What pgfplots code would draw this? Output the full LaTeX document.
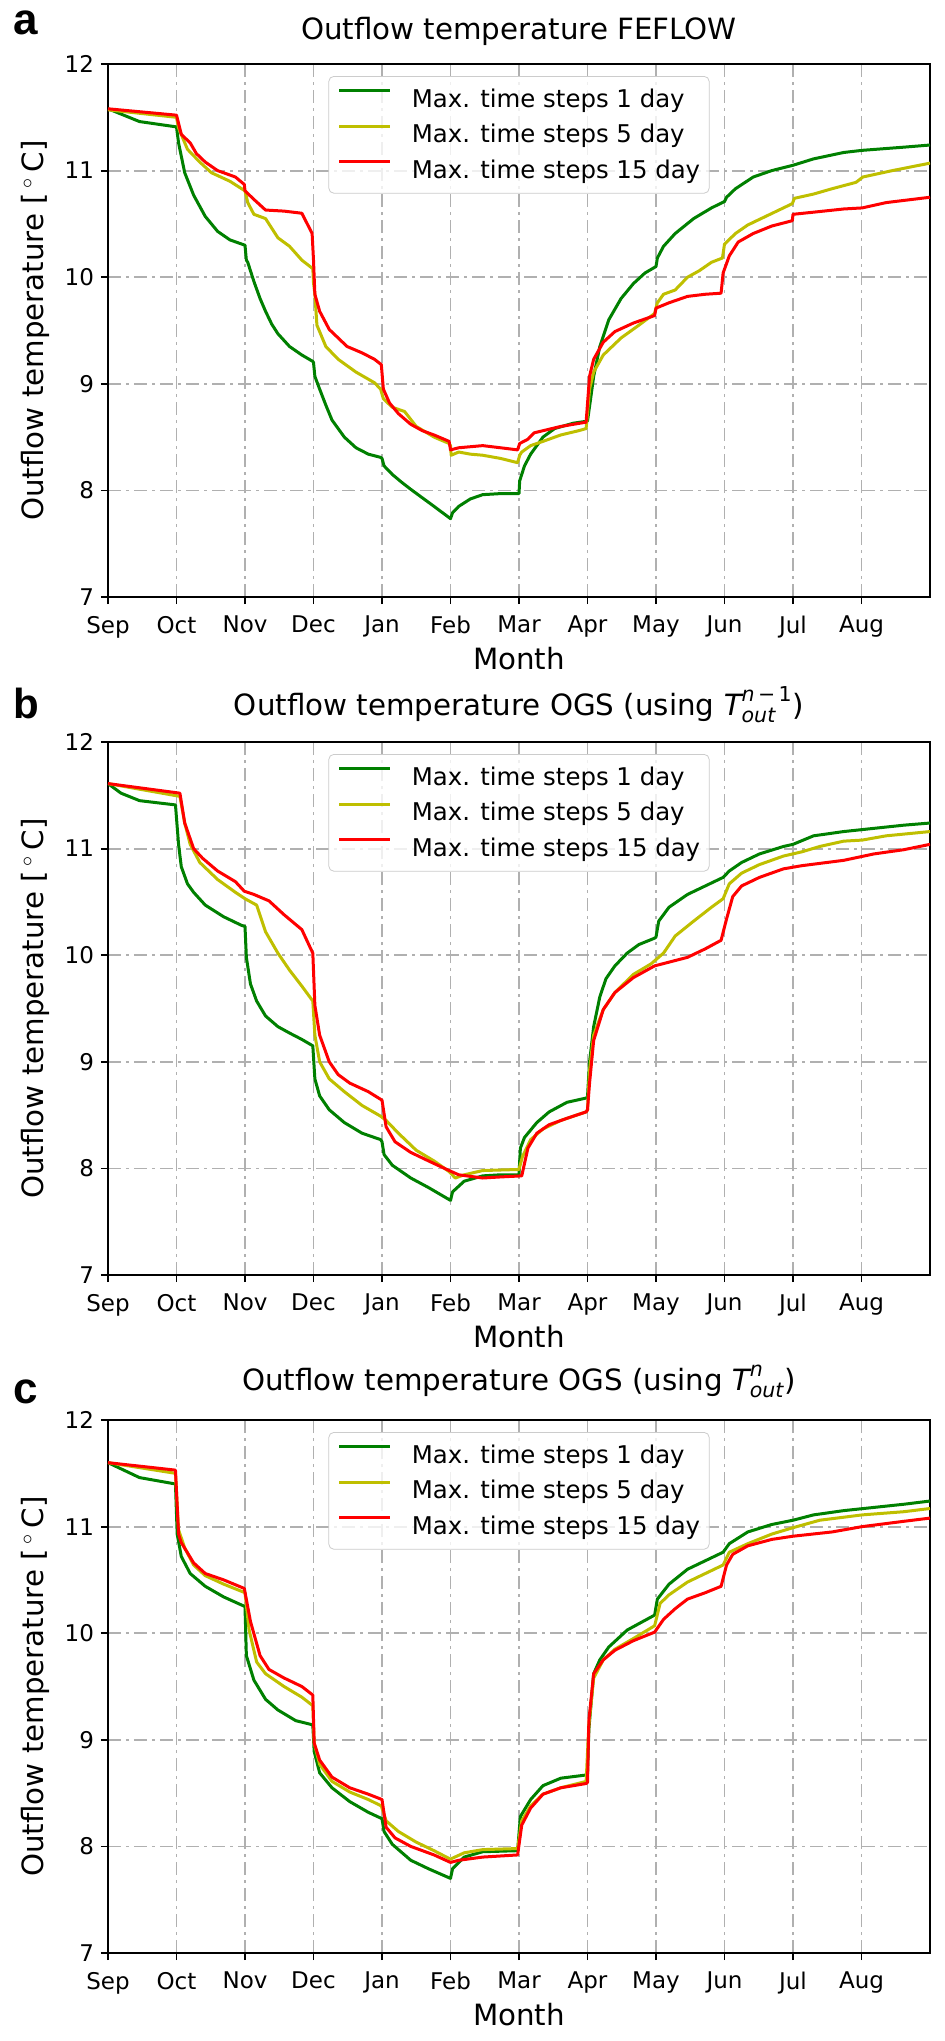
\documentclass[border=0pt]{standalone}
\usepackage{amsmath}
\usepackage{fontspec}
\setmainfont{DejaVu Sans}
\newfontfamily\letterfont{Liberation Sans}
\usepackage{pgfplots}
\pgfplotsset{compat=1.18}
\definecolor{mplgreen}{rgb}{0,0.5,0}
\definecolor{mplyellow}{rgb}{0.75,0.75,0}
\definecolor{mplred}{rgb}{1,0,0}
\pgfplotsset{
  myaxis/.style={
    scale only axis, width=411pt, height=266.5pt,
    anchor=north west,
    xmin=0, xmax=12, ymin=7, ymax=12,
    xtick={0,1,2,3,4,5,6,7,8,9,10,11},
    xticklabels={Sep,Oct,Nov,Dec,Jan,Feb,Mar,Apr,May,Jun,Jul,Aug},
    ytick={7,8,9,10,11,12},
    /pgf/number format/assume math mode=true,
    tick align=outside, tick pos=left,
    major tick length=3.5pt,
    every tick/.style={black, line width=0.9pt},
    axis line style={line width=0.9pt},
    grid=major,
    major grid style={color=black!31, line width=0.9pt, dash pattern=on 6.5pt off 2.5pt on 1.5pt off 2.5pt},
    tick label style={font=\fontsize{11.5}{13.8}\selectfont},
    xticklabel style={yshift=-2.5pt},
    label style={font=\fontsize{14.65}{17.6}\selectfont},
    xlabel={Month},
    ylabel={Outflow temperature [\,$^\circ$\,C]},
    xlabel style={at={(axis description cs:0.5,-0.136)}, anchor=base},
    ylabel style={at={(axis description cs:-0.079,0.5)}, anchor=base},
    title style={font=\fontsize{14.65}{17.6}\selectfont, at={(axis description cs:0.5,1)}, anchor=base},
    every axis plot/.append style={line width=1.5pt, line join=round},
    legend style={at={(axis description cs:0.5,0.9775)}, anchor=north,
      draw=black!20, rounded corners=2.5pt, fill=white, fill opacity=0.8, text opacity=1,
      font=\fontsize{12.2}{14.6}\selectfont,
      inner xsep=4.5pt, inner ysep=2.5pt, row sep=0pt,
      nodes={inner sep=0pt, text height=12.8pt, text depth=5pt}},
    legend cell align=left,
    legend image code/.code={\draw[#1] (0pt,4.4pt) -- (25.5pt,4.4pt); \path (35.5pt,4.4pt);},
  }
}
\begin{document}
\begin{tikzpicture}
\useasboundingbox (0,0) rectangle (472pt,-1020.5pt);
% ---------------- panel a ----------------
\begin{axis}[myaxis, at={(54pt,-32pt)},
  title={Outflow temperature FEFLOW}, title style={yshift=6.5pt}]
\addplot[mplgreen] coordinates {(0,11.58) (0.46,11.46) (1.00,11.41) (1.03,11.26) (1.12,10.98) (1.25,10.77) (1.42,10.57) (1.60,10.43) (1.78,10.35) (2.00,10.30) (2.02,10.16) (2.04,10.14) (2.13,9.96) (2.22,9.80) (2.30,9.68) (2.39,9.56) (2.48,9.47) (2.65,9.35) (2.83,9.27) (2.99,9.21) (3.00,9.20) (3.02,9.07) (3.09,8.95) (3.18,8.80) (3.27,8.66) (3.45,8.50) (3.62,8.40) (3.80,8.34) (3.98,8.31) (4.00,8.30) (4.03,8.23) (4.15,8.15) (4.28,8.08) (4.42,8.01) (4.59,7.93) (4.76,7.85) (5.00,7.735) (5.03,7.79) (5.12,7.85) (5.29,7.92) (5.47,7.96) (5.73,7.97) (6.00,7.97) (6.01,8.09) (6.08,8.23) (6.17,8.34) (6.35,8.50) (6.52,8.58) (6.79,8.63) (7.00,8.65) (7.05,8.88) (7.09,9.07) (7.18,9.35) (7.31,9.60) (7.49,9.80) (7.67,9.94) (7.84,10.04) (8.00,10.10) (8.02,10.18) (8.11,10.29) (8.28,10.41) (8.55,10.55) (8.81,10.65) (9.00,10.71) (9.03,10.75) (9.16,10.83) (9.42,10.94) (9.69,11.00) (10.00,11.05) (10.30,11.11) (10.74,11.17) (11.01,11.19) (11.62,11.22) (12.00,11.24)};
\addlegendentry{Max. time steps 1 day}
\addplot[mplyellow] coordinates {(0,11.57) (1.00,11.50) (1.03,11.40) (1.16,11.20) (1.34,11.08) (1.51,10.98) (1.78,10.90) (2.00,10.81) (2.04,10.70) (2.13,10.59) (2.30,10.55) (2.48,10.37) (2.65,10.29) (2.83,10.16) (2.99,10.08) (3.00,9.95) (3.02,9.84) (3.05,9.55) (3.18,9.35) (3.36,9.23) (3.62,9.11) (3.89,9.01) (3.98,8.95) (4.02,8.86) (4.15,8.78) (4.33,8.74) (4.50,8.60) (4.76,8.50) (4.98,8.44) (5.00,8.42) (5.01,8.33) (5.12,8.36) (5.29,8.34) (5.47,8.33) (5.73,8.30) (5.98,8.26) (6.01,8.33) (6.04,8.36) (6.17,8.42) (6.35,8.46) (6.61,8.52) (6.87,8.56) (6.98,8.58) (7.03,8.95) (7.09,9.11) (7.23,9.27) (7.49,9.43) (7.75,9.55) (7.98,9.66) (8.02,9.76) (8.11,9.84) (8.28,9.88) (8.46,10.00) (8.63,10.06) (8.81,10.14) (8.97,10.18) (9.00,10.31) (9.16,10.41) (9.34,10.49) (9.60,10.57) (9.86,10.65) (9.99,10.69) (10.02,10.74) (10.30,10.78) (10.57,10.83) (10.92,10.89) (11.02,10.94) (11.45,11.00) (12.00,11.07)};
\addlegendentry{Max. time steps 5 day}
\addplot[mplred] coordinates {(0,11.58) (1.00,11.52) (1.07,11.34) (1.20,11.26) (1.29,11.16) (1.42,11.08) (1.60,11.00) (1.86,10.94) (1.99,10.87) (2.00,10.81) (2.13,10.73) (2.30,10.63) (2.57,10.62) (2.83,10.60) (2.98,10.41) (3.00,10.16) (3.02,9.84) (3.09,9.68) (3.23,9.51) (3.36,9.43) (3.49,9.35) (3.71,9.29) (3.89,9.23) (3.99,9.18) (4.02,8.95) (4.11,8.82) (4.24,8.72) (4.42,8.62) (4.59,8.56) (4.76,8.52) (4.98,8.46) (5.00,8.38) (5.12,8.40) (5.47,8.42) (5.73,8.40) (5.98,8.38) (6.01,8.44) (6.13,8.48) (6.22,8.54) (6.35,8.56) (6.61,8.60) (6.98,8.64) (7.03,9.07) (7.09,9.23) (7.23,9.39) (7.40,9.49) (7.67,9.57) (7.98,9.64) (8.00,9.71) (8.19,9.76) (8.46,9.82) (8.72,9.84) (8.95,9.85) (8.98,10.04) (9.07,10.20) (9.20,10.33) (9.42,10.41) (9.69,10.48) (9.99,10.53) (10.00,10.59) (10.30,10.61) (10.74,10.64) (11.01,10.65) (11.36,10.70) (12.00,10.75)};
\addlegendentry{Max. time steps 15 day}
\end{axis}
% ---------------- panel b ----------------
\begin{axis}[myaxis, at={(54pt,-371pt)},
  title={Outflow temperature OGS (using $\textit{T}^{\text{\itshape n}\,\text{−}\,\text{1}}_{\text{\itshape out}}$)}, title style={yshift=7.5pt}]
\addplot[mplgreen] coordinates {(0,11.61) (0.19,11.52) (0.46,11.45) (0.72,11.43) (0.985,11.41) (1.03,11.04) (1.07,10.83) (1.16,10.67) (1.25,10.59) (1.42,10.47) (1.69,10.36) (1.95,10.28) (2.00,10.27) (2.02,9.98) (2.08,9.73) (2.17,9.57) (2.30,9.43) (2.48,9.33) (2.65,9.27) (2.83,9.21) (2.99,9.15) (3.02,8.84) (3.09,8.68) (3.23,8.55) (3.45,8.43) (3.71,8.33) (3.98,8.27) (4.00,8.25) (4.03,8.13) (4.15,8.03) (4.42,7.91) (4.68,7.82) (5.00,7.70) (5.03,7.78) (5.20,7.88) (5.47,7.93) (5.73,7.94) (6.00,7.94) (6.02,8.19) (6.08,8.29) (6.26,8.43) (6.44,8.53) (6.70,8.62) (6.98,8.66) (7.00,8.67) (7.03,9.00) (7.09,9.33) (7.18,9.61) (7.27,9.78) (7.40,9.90) (7.58,10.02) (7.75,10.10) (7.98,10.16) (8.00,10.17) (8.04,10.32) (8.19,10.45) (8.46,10.57) (8.72,10.65) (8.98,10.73) (9.07,10.79) (9.25,10.87) (9.51,10.95) (9.86,11.02) (10.00,11.04) (10.30,11.12) (10.74,11.16) (11.18,11.19) (11.62,11.22) (12.00,11.24)};
\addlegendentry{Max. time steps 1 day}
\addplot[mplyellow] coordinates {(0,11.61) (1.05,11.49) (1.12,11.24) (1.20,11.04) (1.34,10.87) (1.60,10.71) (1.86,10.59) (2.00,10.53) (2.17,10.47) (2.30,10.22) (2.48,10.02) (2.65,9.86) (2.83,9.71) (2.99,9.57) (3.02,9.25) (3.09,9.00) (3.23,8.84) (3.45,8.72) (3.71,8.59) (3.98,8.49) (4.06,8.45) (4.24,8.33) (4.50,8.17) (4.76,8.07) (4.98,7.97) (5.07,7.91) (5.20,7.94) (5.47,7.98) (6.00,7.99) (6.05,8.11) (6.17,8.27) (6.35,8.37) (6.61,8.45) (6.98,8.53) (7.00,8.55) (7.03,8.92) (7.09,9.25) (7.23,9.49) (7.40,9.65) (7.67,9.82) (7.93,9.92) (8.11,10.02) (8.28,10.18) (8.55,10.32) (8.81,10.45) (8.98,10.53) (9.07,10.67) (9.25,10.77) (9.51,10.85) (9.86,10.93) (10.13,10.97) (10.39,11.02) (10.74,11.07) (11.01,11.08) (11.36,11.12) (12.00,11.16)};
\addlegendentry{Max. time steps 5 day}
\addplot[mplred] coordinates {(0,11.61) (1.05,11.52) (1.12,11.24) (1.25,11.00) (1.38,10.91) (1.60,10.79) (1.86,10.69) (1.99,10.60) (2.13,10.57) (2.35,10.51) (2.57,10.38) (2.83,10.24) (2.96,10.06) (2.99,10.02) (3.02,9.53) (3.09,9.25) (3.23,9.00) (3.36,8.88) (3.53,8.80) (3.80,8.72) (4.00,8.64) (4.06,8.39) (4.19,8.25) (4.42,8.15) (4.68,8.07) (4.98,7.98) (5.12,7.94) (5.47,7.91) (5.73,7.92) (6.04,7.93) (6.13,8.19) (6.26,8.33) (6.44,8.41) (6.70,8.47) (6.98,8.53) (7.00,8.55) (7.03,8.80) (7.09,9.20) (7.23,9.49) (7.40,9.65) (7.67,9.79) (7.98,9.90) (8.46,9.98) (8.72,10.06) (8.95,10.14) (9.03,10.34) (9.12,10.55) (9.25,10.65) (9.51,10.73) (9.86,10.81) (10.13,10.84) (10.74,10.89) (11.18,10.95) (11.62,10.99) (12.00,11.04)};
\addlegendentry{Max. time steps 15 day}
\end{axis}
% ---------------- panel c ----------------
\begin{axis}[myaxis, at={(54pt,-710pt)},
  title={Outflow temperature OGS (using $\textit{T}^{\text{\itshape n}}_{\text{\itshape out}}$)}, title style={yshift=9pt}]
\addplot[mplgreen] coordinates {(0,11.60) (0.46,11.46) (0.985,11.40) (1.01,10.93) (1.07,10.72) (1.20,10.56) (1.42,10.44) (1.69,10.34) (2.00,10.25) (2.02,9.79) (2.13,9.56) (2.30,9.38) (2.48,9.28) (2.74,9.18) (2.99,9.14) (3.01,8.89) (3.09,8.69) (3.27,8.55) (3.53,8.42) (3.80,8.32) (4.00,8.26) (4.03,8.14) (4.15,8.02) (4.42,7.87) (4.68,7.79) (5.00,7.70) (5.03,7.79) (5.20,7.90) (5.47,7.95) (5.98,7.96) (6.02,8.28) (6.17,8.44) (6.35,8.57) (6.61,8.64) (6.98,8.67) (7.00,8.68) (7.02,9.10) (7.09,9.62) (7.18,9.75) (7.31,9.87) (7.58,10.03) (7.98,10.17) (8.02,10.32) (8.19,10.46) (8.46,10.60) (8.72,10.68) (8.98,10.76) (9.07,10.84) (9.34,10.95) (9.69,11.02) (10.00,11.06) (10.30,11.11) (10.74,11.15) (11.18,11.18) (11.62,11.21) (12.00,11.24)};
\addlegendentry{Max. time steps 1 day}
\addplot[mplyellow] coordinates {(0,11.60) (0.985,11.50) (1.03,10.97) (1.12,10.80) (1.25,10.64) (1.42,10.54) (1.69,10.46) (2.00,10.38) (2.06,10.03) (2.17,9.73) (2.30,9.62) (2.57,9.50) (2.83,9.40) (2.99,9.32) (3.01,8.97) (3.09,8.77) (3.27,8.61) (3.53,8.51) (3.80,8.44) (3.99,8.38) (4.06,8.24) (4.24,8.14) (4.50,8.04) (4.76,7.96) (5.00,7.88) (5.03,7.89) (5.20,7.94) (5.47,7.97) (5.98,7.98) (6.04,8.24) (6.17,8.38) (6.35,8.49) (6.61,8.55) (6.98,8.61) (7.02,9.14) (7.09,9.58) (7.23,9.75) (7.40,9.85) (7.67,9.95) (7.98,10.07) (8.06,10.28) (8.19,10.36) (8.46,10.48) (8.72,10.56) (8.98,10.64) (9.07,10.76) (9.34,10.84) (9.69,10.93) (10.00,10.99) (10.39,11.06) (11.01,11.11) (11.62,11.14) (12.00,11.17)};
\addlegendentry{Max. time steps 5 day}
\addplot[mplred] coordinates {(0,11.60) (0.985,11.53) (1.03,10.93) (1.07,10.85) (1.25,10.66) (1.42,10.56) (1.69,10.50) (1.99,10.42) (2.08,10.11) (2.22,9.79) (2.35,9.66) (2.57,9.58) (2.83,9.50) (2.99,9.42) (3.01,8.97) (3.09,8.81) (3.27,8.65) (3.53,8.55) (3.80,8.49) (4.00,8.44) (4.06,8.18) (4.19,8.08) (4.42,8.00) (4.76,7.92) (5.00,7.85) (5.12,7.87) (5.47,7.90) (5.98,7.92) (6.04,8.20) (6.17,8.36) (6.35,8.49) (6.61,8.55) (6.98,8.59) (7.00,8.60) (7.02,9.18) (7.09,9.62) (7.23,9.75) (7.40,9.84) (7.67,9.93) (7.98,10.01) (8.11,10.13) (8.28,10.23) (8.46,10.32) (8.72,10.38) (8.95,10.44) (9.03,10.64) (9.12,10.74) (9.34,10.82) (9.69,10.88) (10.00,10.91) (10.57,10.95) (11.01,11.00) (11.62,11.05) (12.00,11.08)};
\addlegendentry{Max. time steps 15 day}
\end{axis}
% panel letters
\node[anchor=base west, inner sep=0pt, font=\letterfont\bfseries\fontsize{22}{26}\selectfont] at (6.5pt,-17pt) {a};
\node[anchor=base west, inner sep=0pt, font=\letterfont\bfseries\fontsize{21}{25}\selectfont] at (6.5pt,-359pt) {b};
\node[anchor=base west, inner sep=0pt, font=\letterfont\bfseries\fontsize{22}{26}\selectfont] at (6.5pt,-701.5pt) {c};
\end{tikzpicture}
\end{document}
